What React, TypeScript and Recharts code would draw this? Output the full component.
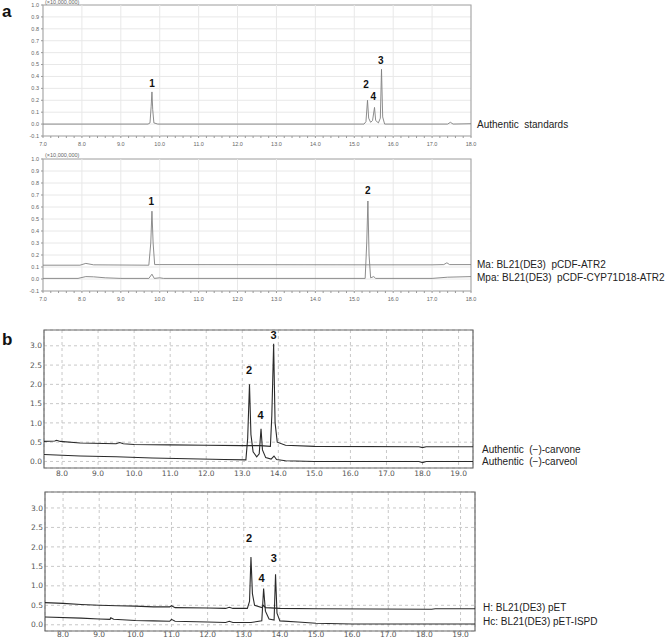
import React from "react";
import {
  LineChart,
  Line,
  XAxis,
  YAxis,
  CartesianGrid,
  ReferenceArea,
  ReferenceLine,
  ReferenceDot,
} from "recharts";

// retention time (min), abundance pairs
const standardsTrace = [
  [7.0, 0.0], [9.7, 0.0], [9.75, 0.01], [9.78, 0.15], [9.8, 0.27], [9.82, 0.12], [9.85, 0.01],
  [9.95, 0.0], [15.25, 0.0], [15.3, 0.02], [15.34, 0.2], [15.37, 0.05], [15.42, 0.015],
  [15.47, 0.03], [15.52, 0.14], [15.55, 0.03], [15.62, 0.01], [15.67, 0.05], [15.7, 0.46],
  [15.73, 0.06], [15.78, 0.0], [17.4, 0.0], [17.47, 0.015], [17.54, 0.0], [18.0, 0.003],
];
const maTrace = [
  [7.0, 0.115], [7.95, 0.115], [8.1, 0.13], [8.3, 0.118], [9.72, 0.115], [9.77, 0.3], [9.8, 0.565],
  [9.83, 0.3], [9.87, 0.12], [10.0, 0.12], [15.3, 0.118], [17.0, 0.118], [17.3, 0.12],
  [17.38, 0.135], [17.45, 0.12], [18.0, 0.12],
];
const mpaTrace = [
  [7.0, 0.005], [7.9, 0.005], [8.1, 0.02], [8.3, 0.018], [8.6, 0.01], [9.0, 0.005], [9.72, 0.005],
  [9.8, 0.04], [9.86, 0.005], [10.0, 0.01], [10.1, 0.005], [15.28, 0.005], [15.32, 0.3],
  [15.35, 0.65], [15.38, 0.2], [15.42, 0.01], [15.5, 0.02], [15.55, 0.005], [17.0, 0.005],
  [17.4, 0.015], [18.0, 0.02],
];
const carvoneTrace = [
  [7.5, 0.52], [7.8, 0.53], [7.85, 0.55], [7.95, 0.52], [8.5, 0.48], [9.5, 0.46], [9.6, 0.49],
  [9.7, 0.46], [10.0, 0.44], [11.0, 0.43], [12.0, 0.42], [13.0, 0.41], [13.5, 0.41], [13.78, 0.39],
  [13.82, 1.2], [13.87, 3.05], [13.91, 1.0], [13.97, 0.5], [14.2, 0.42], [15.0, 0.39], [17.9, 0.38],
  [18.0, 0.36], [18.1, 0.38], [19.4, 0.38],
];
const carveolTrace = [
  [7.5, 0.18], [8.5, 0.14], [9.5, 0.12], [10.5, 0.09], [11.5, 0.07], [12.5, 0.05], [13.1, 0.04],
  [13.15, 0.6], [13.2, 2.0], [13.24, 0.7], [13.3, 0.25], [13.4, 0.12], [13.47, 0.2], [13.52, 0.85],
  [13.56, 0.3], [13.65, 0.1], [13.8, 0.06], [13.88, 0.14], [13.95, 0.05], [14.2, 0.02], [15.0, 0.0],
  [17.9, 0.0], [18.0, -0.03], [18.1, 0.0], [19.4, 0.0],
];
const hTrace = [
  [7.5, 0.57], [8.0, 0.55], [8.5, 0.52], [9.0, 0.5], [9.5, 0.49], [10.0, 0.48], [10.5, 0.46],
  [10.95, 0.46], [11.0, 0.49], [11.1, 0.44], [12.0, 0.43], [12.5, 0.42], [12.6, 0.45], [12.7, 0.42],
  [13.1, 0.42], [13.16, 0.6], [13.2, 1.74], [13.24, 0.8], [13.3, 0.5], [13.5, 0.44], [13.55, 0.5],
  [13.6, 0.44], [14.0, 0.42], [15.0, 0.41], [18.2, 0.4], [18.3, 0.41], [19.4, 0.41],
];
const hcTrace = [
  [7.5, 0.2], [8.5, 0.17], [9.0, 0.15], [9.3, 0.14], [9.32, 0.18], [9.4, 0.14], [10.0, 0.11],
  [10.5, 0.1], [10.95, 0.09], [11.0, 0.14], [11.1, 0.09], [12.0, 0.07], [12.5, 0.06], [12.6, 0.09],
  [12.7, 0.06], [13.2, 0.06], [13.5, 0.1], [13.55, 0.93], [13.6, 0.35], [13.7, 0.15], [13.84, 0.12],
  [13.88, 1.3], [13.92, 0.3], [14.0, 0.1], [14.5, 0.07], [15.0, 0.04], [16.0, 0.02], [19.4, 0.02],
];

// peak numbers: [label, x, y]
const peaksStandards = [["1", 9.8, 0.34], ["2", 15.3, 0.336], ["4", 15.49, 0.23], ["3", 15.68, 0.535]];
const peaksMicrobe = [["1", 9.78, 0.65], ["2", 15.35, 0.74]];
const peaksAuthentic = [["2", 13.19, 2.36], ["4", 13.51, 1.21], ["3", 13.87, 3.28]];
const peaksHost = [["2", 13.15, 2.23], ["4", 13.49, 1.21], ["3", 13.83, 1.72]];

// axis ticks
const xTicksA = [
  7, 7.2, 7.4, 7.6, 7.8, 8, 8.2, 8.4, 8.6, 8.8, 9, 9.2, 9.4, 9.6, 9.8, 10, 10.2, 10.4, 10.6, 10.8,
  11, 11.2, 11.4, 11.6, 11.8, 12, 12.2, 12.4, 12.6, 12.8, 13, 13.2, 13.4, 13.6, 13.8, 14, 14.2,
  14.4, 14.6, 14.8, 15, 15.2, 15.4, 15.6, 15.8, 16, 16.2, 16.4, 16.6, 16.8, 17, 17.2, 17.4, 17.6,
  17.8, 18,
];
const xGridA = [8, 9, 10, 11, 12, 13, 14, 15, 16, 17];
const yTicksA = [-0.1, 0.0, 0.1, 0.2, 0.3, 0.4, 0.5, 0.6, 0.7, 0.8, 0.9, 1.0];
const xTicksB = [8, 9, 10, 11, 12, 13, 14, 15, 16, 17, 18, 19];
const yTicksB = [0.0, 0.5, 1.0, 1.5, 2.0, 2.5, 3.0];

const toPts = (a: number[][]) => a.map(([t, v]) => ({ t, v }));

const W = 669;
const NB = "\u00a0";

type PanelProps = {
  top: number;
  height: number;
  plot: { l: number; r: number; t: number; b: number };
  xDomain: [number, number];
  yDomain: [number, number];
  xTicks: number[];
  yTicks: number[];
  traces: number[][][];
  peaks: (string | number)[][];
  kind: "a" | "b";
  xTickGap?: number;
};

function Panel({ top, height, plot, xDomain, yDomain, xTicks, yTicks, traces, peaks, kind, xTickGap }: PanelProps) {
  const isA = kind === "a";
  const tickStyle = isA
    ? { fontSize: 5.5, fill: "#666", fontFamily: "Arial, 'Liberation Sans'" }
    : { fontSize: 7.5, fill: "#555", fontFamily: "'DejaVu Sans', Verdana" };
  const lineColor = isA ? "#808080" : "#2b2b2b";
  // axes need a size of at least 1px to render their ticks
  return (
    <div style={{ position: "absolute", left: 0, top, width: W, height }}>
      <LineChart
        width={W}
        height={height}
        margin={{ left: plot.l - 1, right: W - plot.r, top: plot.t - top, bottom: top + height - plot.b - 1 }}
      >
        <CartesianGrid
          vertical={!isA}
          stroke={isA ? "#e8e8e8" : "#c8c8c8"}
          strokeDasharray={isA ? undefined : "3 3"}
        />
        {isA &&
          xGridA.map((g) => (
            <ReferenceLine key={g} x={g} stroke="#e8e8e8" />
          ))}
        <XAxis
          type="number"
          dataKey="t"
          domain={xDomain}
          ticks={xTicks}
          allowDataOverflow
          height={1}
          axisLine={false}
          tickLine={isA ? { stroke: "#999" } : false}
          tickSize={isA ? 2 : 0}
          tickMargin={xTickGap ?? (isA ? 4 : 3)}
          tick={tickStyle}
          interval={0}
          tickFormatter={(v: number) => (v % 1 === 0 ? v.toFixed(1) : "")}
        />
        <YAxis
          type="number"
          domain={yDomain}
          ticks={yTicks}
          allowDataOverflow
          width={1}
          axisLine={false}
          tickLine={isA ? { stroke: "#999" } : false}
          tickSize={isA ? 2 : 0}
          tickMargin={2}
          tick={tickStyle}
          interval={0}
          tickFormatter={(v: number) => v.toFixed(1)}
        />
        {traces.map((tr, i) => (
          <Line
            key={i}
            data={toPts(tr)}
            dataKey="v"
            type="linear"
            stroke={lineColor}
            strokeWidth={isA ? 0.9 : 1.1}
            dot={false}
            isAnimationActive={false}
          />
        ))}
        <ReferenceArea
          x1={xDomain[0]}
          x2={xDomain[1]}
          y1={yDomain[0]}
          y2={yDomain[1]}
          fill="none"
          fillOpacity={0}
          stroke={isA ? "#a8a8a8" : "#6a6a6a"}
          strokeWidth={1.2}
        />
        {peaks.map(([lab, x, y]) => (
          <ReferenceDot
            key={String(lab)}
            x={x as number}
            y={y as number}
            r={0}
            shape={(p: any) => (
              <text
                x={p.cx}
                y={p.cy}
                textAnchor="middle"
                dominantBaseline="central"
                fontSize={isA ? 10 : 11}
                fontWeight="bold"
                fontFamily="Arial, 'Liberation Sans'"
                fill="#111"
              >
                {lab}
              </text>
            )}
          />
        ))}
      </LineChart>
    </div>
  );
}

const labelFont = { fontFamily: "Arial, 'Liberation Sans'", fontSize: 10, fill: "#222" };

export default function App() {
  return (
    <div style={{ position: "absolute", left: 0, top: 0, width: W, height: 640, background: "#fff" }}>
      <Panel
        kind="a"
        top={0}
        height={150}
        plot={{ l: 43, r: 471, t: 5, b: 136 }}
        xDomain={[7, 18]}
        yDomain={[-0.1, 1.0]}
        xTicks={xTicksA}
        yTicks={yTicksA}
        traces={[standardsTrace]}
        peaks={peaksStandards}
      />
      <Panel
        kind="a"
        top={150}
        height={160}
        plot={{ l: 43, r: 471, t: 159, b: 291 }}
        xDomain={[7, 18]}
        yDomain={[-0.1, 1.0]}
        xTicks={xTicksA}
        yTicks={yTicksA}
        traces={[maTrace, mpaTrace]}
        peaks={peaksMicrobe}
      />
      <Panel
        kind="b"
        top={320}
        height={160}
        plot={{ l: 44, r: 473, t: 330, b: 468 }}
        xDomain={[7.5, 19.4]}
        yDomain={[-0.17, 3.41]}
        xTicks={xTicksB}
        yTicks={yTicksB}
        traces={[carvoneTrace, carveolTrace]}
        peaks={peaksAuthentic}
      />
      <Panel
        kind="b"
        top={480}
        height={160}
        plot={{ l: 45, r: 475, t: 492, b: 631 }}
        xDomain={[7.5, 19.4]}
        yDomain={[-0.16, 3.41]}
        xTicks={xTicksB}
        yTicks={yTicksB}
        traces={[hTrace, hcTrace]}
        peaks={peaksHost}
        xTickGap={1}
      />
      <svg
        width={W}
        height={640}
        style={{ position: "absolute", left: 0, top: 0, pointerEvents: "none" }}
      >
        <text x={2} y={17} fontSize={17} fontWeight="bold" fontFamily="Arial, 'Liberation Sans'" fill="#111">a</text>
        <text x={2} y={345} fontSize={17} fontWeight="bold" fontFamily="Arial, 'Liberation Sans'" fill="#111">b</text>
        <text x={45} y={4} fontSize={5.5} fontFamily="Arial, 'Liberation Sans'" fill="#666">(×10,000,000)</text>
        <text x={45} y={157} fontSize={5.5} fontFamily="Arial, 'Liberation Sans'" fill="#666">(×10,000,000)</text>
        <text x={477} y={124} dominantBaseline="central" {...labelFont}>{`Authentic${NB} standards`}</text>
        <text x={477} y={264} dominantBaseline="central" {...labelFont}>{`Ma: BL21(DE3)${NB} pCDF-ATR2`}</text>
        <text x={477} y={277} dominantBaseline="central" {...labelFont}>{`Mpa: BL21(DE3)${NB} pCDF-CYP71D18-ATR2`}</text>
        <text x={482} y={449} dominantBaseline="central" {...labelFont}>{`Authentic${NB} (−)-carvone`}</text>
        <text x={482} y={461} dominantBaseline="central" {...labelFont}>{`Authentic${NB} (−)-carveol`}</text>
        <text x={483} y={607} dominantBaseline="central" {...labelFont}>H: BL21(DE3) pET</text>
        <text x={483} y={621} dominantBaseline="central" {...labelFont}>Hc: BL21(DE3) pET-ISPD</text>
      </svg>
    </div>
  );
}
